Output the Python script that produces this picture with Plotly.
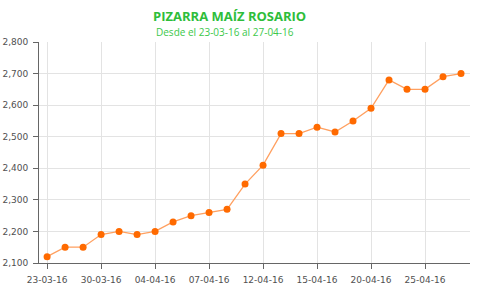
import plotly.graph_objects as go

dates = ["23-03-16", "28-03-16", "29-03-16", "30-03-16", "31-03-16", "01-04-16",
         "04-04-16", "05-04-16", "06-04-16", "07-04-16", "08-04-16", "11-04-16",
         "12-04-16", "13-04-16", "14-04-16", "15-04-16", "18-04-16", "19-04-16",
         "20-04-16", "21-04-16", "22-04-16", "25-04-16", "26-04-16", "27-04-16"]
prices = [2120, 2150, 2150, 2190, 2200, 2190,
          2200, 2230, 2250, 2260, 2270, 2350,
          2410, 2510, 2510, 2530, 2515, 2550,
          2590, 2680, 2650, 2650, 2690, 2700]
tick_every = 3
title = "PIZARRA MAÍZ ROSARIO"
subtitle = "Desde el 23-03-16 al 27-04-16"

idx = list(range(len(dates)))
tickvals = idx[::tick_every]
ticktext = [dates[i] for i in tickvals]

fig = go.Figure()
fig.add_trace(go.Scatter(
    x=idx, y=prices, mode="lines+markers",
    line=dict(color="#ffa060", width=1.3),
    marker=dict(color="#ff6a00", size=7),
    hovertext=dates,
))

axis_font = dict(family="DejaVu Sans", size=9, color="#505050")
fig.update_layout(
    width=480, height=290,
    margin=dict(l=39, r=10, t=42, b=27, autoexpand=False),
    paper_bgcolor="white", plot_bgcolor="white",
    showlegend=False,
    xaxis=dict(
        range=[-0.45, 23.5], tickmode="array", tickvals=tickvals, ticktext=ticktext,
        showgrid=True, gridcolor="#e3e3e3", gridwidth=1,
        showline=True, linecolor="#666666", linewidth=1,
        ticks="outside", ticklen=5, tickcolor="#666666",
        tickfont=axis_font, zeroline=False, ticklabelstandoff=3, automargin=False,
    ),
    yaxis=dict(
        range=[2100, 2800], tick0=2100, dtick=100, tickformat=",d",
        showgrid=True, gridcolor="#e3e3e3", gridwidth=1,
        showline=True, linecolor="#666666", linewidth=1,
        ticks="outside", ticklen=5, tickcolor="#666666",
        tickfont=axis_font, zeroline=False, ticklabelstandoff=3, automargin=False,
    ),
    annotations=[
        dict(text="<b>" + title + "</b>", xref="paper", yref="paper",
             x=0.443, y=1.118, showarrow=False, xanchor="center", yanchor="middle",
             font=dict(family="Open Sans", size=13, color="#2ebd3a")),
        dict(text=subtitle, xref="paper", yref="paper",
             x=0.432, y=1.045, showarrow=False, xanchor="center", yanchor="middle",
             font=dict(family="Open Sans", size=10, color="#3cc84a")),
    ],
)

fig.write_html("out.html")
